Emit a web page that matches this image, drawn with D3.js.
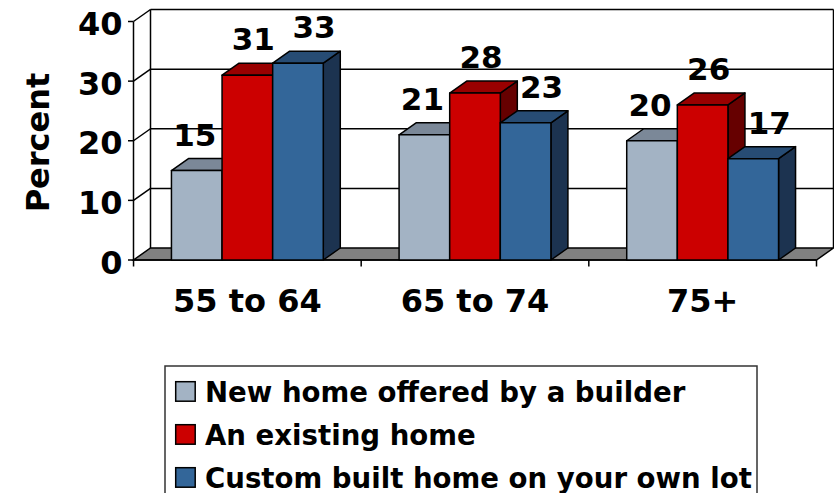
<!DOCTYPE html>
<html>
<head>
<meta charset="utf-8">
<script src="https://cdn.jsdelivr.net/npm/d3@7"></script>
<style>
  html, body { margin: 0; padding: 0; background: #fff; }
  svg { display: block; }
  text { font-family: "DejaVu Sans", Verdana, sans-serif; font-weight: bold; fill: #000; }
</style>
</head>
<body>
<svg id="chart" width="834" height="493"></svg>
<script>
// Preferred type of home, by age group (percent)
const categories = ["55 to 64", "65 to 74", "75+"];
const seriesNames = ["New home offered by a builder", "An existing home", "Custom built home on your own lot"];
const newHome = [15, 21, 20];
const existingHome = [31, 28, 26];
const customHome = [33, 23, 17];
const yTicks = [0, 10, 20, 30, 40];

const series = [newHome, existingHome, customHome];

// face colours per series: front, top, side
const palette = [
  { front: "#a3b3c4", top: "#7b8898", side: "#525a66" },
  { front: "#cc0000", top: "#990000", side: "#660000" },
  { front: "#336699", top: "#274c74", side: "#1c3350" }
];
// horizontal nudge of each series' value labels
const labelShift = [-2, 6, 16];

const svg = d3.select("#chart");

// oblique depth of the 3-D box
const dx = 17, dy = -12;

const x0 = d3.scaleBand().domain(categories).range([133.5, 816.5])
  .paddingInner(0.333).paddingOuter(0.1667);
const x1 = d3.scaleBand().domain(d3.range(series.length)).range([0, x0.bandwidth()]);
const y = d3.scaleLinear().domain([0, 40]).range([260, 21.5]);

const left = x0.range()[0], right = x0.range()[1];
const base = y(0), topY = y(40);

const walls = svg.append("g").attr("fill", "none").attr("stroke", "#000").attr("stroke-width", 1.5);

// floor
walls.append("path")
  .attr("d", `M${left},${base}L${right},${base}L${right + dx},${base + dy}L${left + dx},${base + dy}Z`)
  .attr("fill", "#808080");

// back-wall gridlines and side-wall diagonals
yTicks.forEach(t => {
  if (t > 0) {
    walls.append("line")
      .attr("x1", left + dx).attr("x2", right + dx)
      .attr("y1", y(t) + dy).attr("y2", y(t) + dy);
    walls.append("line")
      .attr("x1", left).attr("x2", left + dx)
      .attr("y1", y(t)).attr("y2", y(t) + dy);
  }
});
// wall edges
walls.append("line").attr("x1", left + dx).attr("x2", left + dx).attr("y1", topY + dy).attr("y2", base + dy);
walls.append("line").attr("x1", right + dx).attr("x2", right + dx).attr("y1", topY + dy).attr("y2", base + dy);

// front value axis
const yAxis = svg.append("g").attr("stroke", "#000").attr("stroke-width", 1.5);
yAxis.append("line").attr("x1", left).attr("x2", left).attr("y1", topY).attr("y2", base);
yTicks.forEach(t => {
  yAxis.append("line").attr("x1", left - 5.5).attr("x2", left).attr("y1", y(t)).attr("y2", y(t));
});
svg.append("g").selectAll("text").data(yTicks).join("text")
  .attr("x", left - 11).attr("y", d => y(d) + 13.5)
  .attr("text-anchor", "end").attr("font-size", 32)
  .text(d => d);

// category axis
const xAxis = svg.append("g").attr("stroke", "#000").attr("stroke-width", 1.5);
xAxis.append("line").attr("x1", left).attr("x2", right).attr("y1", base).attr("y2", base);
const bounds = categories.map(c => x0(c) - x0.step() * x0.paddingInner() / 2);
bounds.push(right);
bounds.forEach(bx => {
  xAxis.append("line").attr("x1", bx).attr("x2", bx).attr("y1", base).attr("y2", base + 6.5);
});
svg.append("g").selectAll("text").data(categories).join("text")
  .attr("x", d => x0(d) + x0.bandwidth() / 2)
  .attr("y", 311.5)
  .attr("text-anchor", "middle").attr("font-size", 32)
  .text(d => d);

// axis title
svg.append("text")
  .attr("transform", "translate(49,142.5) rotate(-90)")
  .attr("text-anchor", "middle").attr("font-size", 32)
  .text("Percent");

// 3-D columns, drawn left to right so each column covers its neighbour's side
const bars = svg.append("g").attr("stroke", "#000").attr("stroke-width", 1.5).attr("stroke-linejoin", "round");
categories.forEach((cat, ci) => {
  series.forEach((vals, si) => {
    const v = vals[ci];
    const bx = x0(cat) + x1(si);
    const w = x1.bandwidth();
    const yv = y(v);
    const c = palette[si];
    bars.append("path")
      .attr("d", `M${bx + w},${yv}L${bx + w + dx},${yv + dy}L${bx + w + dx},${base + dy}L${bx + w},${base}Z`)
      .attr("fill", c.side);
    bars.append("path")
      .attr("d", `M${bx},${yv}L${bx + dx},${yv + dy}L${bx + w + dx},${yv + dy}L${bx + w},${yv}Z`)
      .attr("fill", c.top);
    bars.append("rect")
      .attr("x", bx).attr("y", yv).attr("width", w).attr("height", base - yv)
      .attr("fill", c.front);
  });
});

// value labels
const labels = svg.append("g");
categories.forEach((cat, ci) => {
  series.forEach((vals, si) => {
    const v = vals[ci];
    labels.append("text")
      .attr("x", x0(cat) + x1(si) + x1.bandwidth() / 2 + labelShift[si])
      .attr("y", y(v) + dy - 13)
      .attr("text-anchor", "middle").attr("font-size", 31)
      .text(v);
  });
});

// legend
const legend = svg.append("g");
legend.append("rect")
  .attr("x", 165).attr("y", 366).attr("width", 592).attr("height", 140)
  .attr("fill", "#fff").attr("stroke", "#333").attr("stroke-width", 1.5);
seriesNames.forEach((name, i) => {
  const ry = 381.7 + i * 43;
  legend.append("rect")
    .attr("x", 175.7).attr("y", ry).attr("width", 19.5).attr("height", 19.5)
    .attr("fill", palette[i].front).attr("stroke", "#000").attr("stroke-width", 1.5);
  legend.append("text")
    .attr("x", 205).attr("y", ry + 19.8)
    .attr("font-size", 27.6)
    .text(name);
});
</script>
</body>
</html>
